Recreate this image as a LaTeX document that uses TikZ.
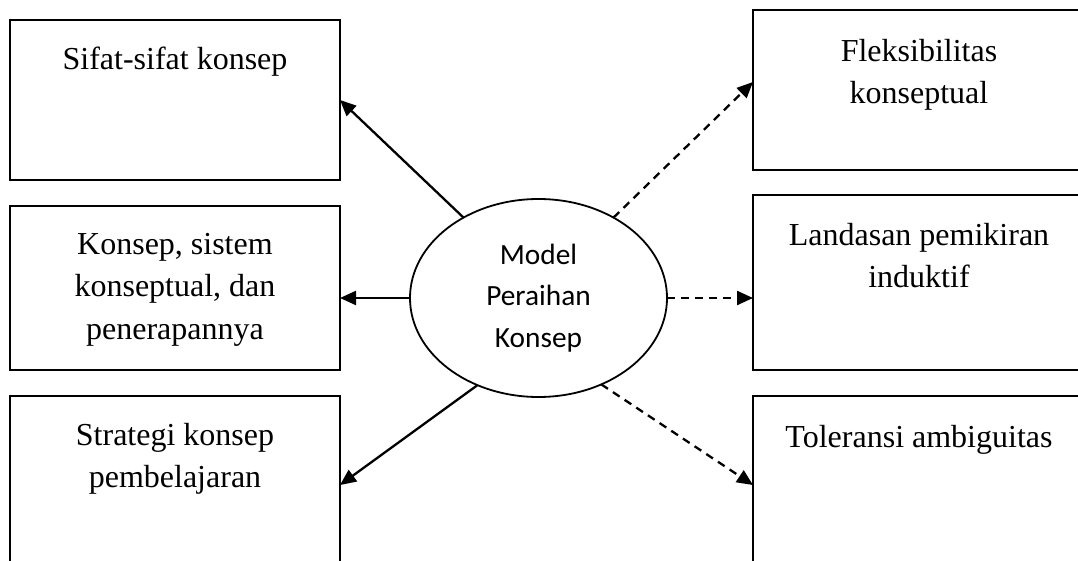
\documentclass[tikz,border=0pt]{standalone}
\usepackage{fontspec}
\setmainfont{Liberation Serif}
\newfontfamily\calibri{Carlito}
\usetikzlibrary{arrows.meta,shapes.geometric,calc}
\begin{document}
\begin{tikzpicture}[x=1pt,y=-1pt,
  box/.style={draw,line width=2.4pt,outer sep=0pt,inner sep=0pt},
  lbl/.style={anchor=north,align=center,inner sep=0pt,
    font=\fontsize{32}{42.5}\selectfont},
  conn/.style={line width=2.3pt,-{Triangle[length=16pt,width=14pt]}},
  dconn/.style={conn,dash pattern=on 8pt off 6pt}]
\clip (0,0) rectangle (1078,561);

% left column
\node[box,minimum width=330pt,minimum height=160pt] (b1) at (175,100) {};
\node[box,minimum width=330pt,minimum height=164pt] (b2) at (175,288) {};
\node[box,minimum width=330pt,minimum height=178pt] (b3) at (175,485) {};
% right column
\node[box,minimum width=332pt,minimum height=160pt] (b4) at (919,90) {};
\node[box,minimum width=332pt,minimum height=175pt] (b5) at (919,282.5) {};
\node[box,minimum width=332pt,minimum height=178pt] (b6) at (919,485) {};

\node[lbl] (t1) at ($(b1.north)+(0,27)$) {Sifat-sifat konsep};
\node[lbl] (t2) at ($(b2.north)+(0,27)$) {Konsep, sistem\\konseptual, dan\\penerapannya};
\node[lbl] (t3) at ($(b3.north)+(0,27)$) {Strategi konsep\\pembelajaran};
\node[lbl] (t4) at ($(b4.north)+(0,29)$) {Fleksibilitas\\konseptual};
\node[lbl] (t5) at ($(b5.north)+(0,28)$) {Landasan pemikiran\\induktif};
\node[lbl] (t6) at ($(b6.north)+(0,29)$) {Toleransi ambiguitas};

% central concept
\node[draw,ellipse,line width=1.8pt,inner sep=0pt,outer sep=0pt,
  minimum width=257pt,minimum height=198pt,align=center,
  font=\calibri\fontsize{29.33}{41.5}\selectfont] (ell) at (538.5,298)
  {Model\\Peraihan\\Konsep};

% connectors
\draw[conn] (ell.133) -- (b1.east);
\draw[conn] (ell.west) -- (ell.west -| b2.east);
\draw[conn] (ell.235) -- (b3.east);
\draw[dconn] (ell.47) -- ($(b4.west)+(0,-8)$);
\draw[dconn] (ell.east) -- (ell.east -| b5.west);
\draw[dconn] (ell.306) -- (b6.west);
\end{tikzpicture}
\end{document}
